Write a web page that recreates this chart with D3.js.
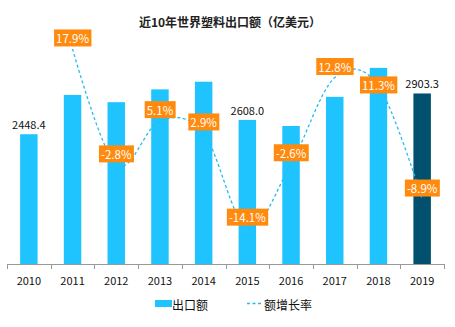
<!DOCTYPE html>
<html lang="zh">
<head>
<meta charset="UTF-8">
<title>近10年世界塑料出口额</title>
<script src="https://cdn.jsdelivr.net/npm/d3@7"></script>
<style>
  html, body { margin: 0; padding: 0; background: #fff; }
  svg { display: block; font-family: "Microsoft YaHei", "Noto Sans CJK SC", sans-serif; }
</style>
</head>
<body>
<div id="chart"></div>
<script>
// yearly export value (100M USD) and year-on-year growth (%)
const years = ['2010', '2011', '2012', '2013', '2014', '2015', '2016', '2017', '2018', '2019'];
const exportValue = [2448.4, 2886.7, 2805.9, 2949.0, 3034.5, 2608.0, 2540.2, 2865.3, 3189.1, 2903.3];
const growthRate = [null, 17.9, -2.8, 5.1, 2.9, -14.1, -2.6, 12.8, 11.3, -8.9];
// only some bars carry a value label
const valueLabelYears = ['2010', '2015', '2019'];
// the 2018 rate label is nudged down so it clears 2017's
const rateLabelShift = { '2018': 10 };

const width = 455, height = 327;
const margin = { left: 7, right: 11, top: 40, bottom: 63 };
const plotBottom = height - margin.bottom;

const svg = d3.select('#chart').append('svg')
    .attr('width', width)
    .attr('height', height);

const x = d3.scaleBand()
    .domain(years)
    .range([margin.left, width - margin.right])
    .paddingInner(0.6)
    .paddingOuter(0.3);

const y = d3.scaleLinear()
    .domain([1000, 3500])
    .range([plotBottom, margin.top]);

// secondary scale for the growth line
const y2 = d3.scaleLinear()
    .domain([-20.5, 19.5])
    .range([plotBottom, margin.top]);

svg.append('text')
    .attr('x', 230)
    .attr('y', 21)
    .attr('text-anchor', 'middle')
    .attr('dominant-baseline', 'central')
    .attr('font-size', 12)
    .attr('font-weight', 'bold')
    .attr('fill', '#222')
    .text('近10年世界塑料出口额（亿美元）');

// bars
svg.append('g').selectAll('rect')
    .data(years)
    .join('rect')
    .attr('x', d => x(d))
    .attr('width', x.bandwidth())
    .attr('y', (d, i) => y(exportValue[i]))
    .attr('height', (d, i) => plotBottom - y(exportValue[i]))
    .attr('fill', d => d === '2019' ? '#00506E' : '#1FC4FF');

// value labels above selected bars
svg.append('g').selectAll('text')
    .data(years.filter(d => valueLabelYears.includes(d)))
    .join('text')
    .attr('x', d => x(d) + x.bandwidth() / 2)
    .attr('y', d => y(exportValue[years.indexOf(d)]) - 10)
    .attr('text-anchor', 'middle')
    .attr('dominant-baseline', 'central')
    .attr('font-size', 11)
    .attr('fill', '#111')
    .text(d => exportValue[years.indexOf(d)].toFixed(1));

// x axis: ticks sit on the category boundaries
const step = (width - margin.right - margin.left) / years.length;
const axis = svg.append('g');
axis.append('line')
    .attr('x1', margin.left).attr('x2', width - margin.right)
    .attr('y1', plotBottom + 0.5).attr('y2', plotBottom + 0.5)
    .attr('stroke', '#999').attr('stroke-width', 1);
axis.selectAll('line.tick')
    .data(d3.range(years.length + 1))
    .join('line')
    .attr('class', 'tick')
    .attr('x1', i => Math.round(margin.left + i * step) + 0.5)
    .attr('x2', i => Math.round(margin.left + i * step) + 0.5)
    .attr('y1', plotBottom)
    .attr('y2', plotBottom + 5)
    .attr('stroke', '#999');
axis.selectAll('text')
    .data(years)
    .join('text')
    .attr('x', d => x(d) + x.bandwidth() / 2)
    .attr('y', plotBottom + 16)
    .attr('text-anchor', 'middle')
    .attr('dominant-baseline', 'central')
    .attr('font-size', 11)
    .attr('fill', '#111')
    .text(d => d);

// growth-rate line, smoothed and dashed
const ratePoints = years
    .map((d, i) => ({ year: d, v: growthRate[i] }))
    .filter(p => p.v !== null);

const line = d3.line()
    .x(p => x(p.year) + x.bandwidth() / 2)
    .y(p => y2(p.v))
    .curve(d3.curveCatmullRom.alpha(0));

svg.append('path')
    .datum(ratePoints)
    .attr('d', line)
    .attr('fill', 'none')
    .attr('stroke', '#22BCF2')
    .attr('stroke-width', 1.3)
    .attr('stroke-dasharray', '3,2.5');

// rate labels: orange boxes above each point
const rateLabels = svg.append('g').selectAll('g')
    .data(ratePoints)
    .join('g')
    .attr('transform', p => `translate(${x(p.year) + x.bandwidth() / 2},${y2(p.v) - 11 + (rateLabelShift[p.year] || 0)})`);

rateLabels.append('text')
    .attr('text-anchor', 'middle')
    .attr('dominant-baseline', 'central')
    .attr('font-size', 11.5)
    .attr('fill', '#fff')
    .text(p => p.v.toFixed(1) + '%');

rateLabels.each(function () {
    const g = d3.select(this);
    const bb = g.select('text').node().getBBox();
    g.insert('rect', 'text')
        .attr('x', bb.x - 2)
        .attr('y', -8.5)
        .attr('width', bb.width + 4)
        .attr('height', 17)
        .attr('fill', '#FF8A0D');
});

// legend
const legend = svg.append('g');
legend.append('rect')
    .attr('x', 155).attr('y', 300)
    .attr('width', 17).attr('height', 7)
    .attr('fill', '#1FC4FF');
legend.append('text')
    .attr('x', 172).attr('y', 304)
    .attr('dominant-baseline', 'central')
    .attr('font-size', 12).attr('fill', '#111')
    .text('出口额');
legend.append('line')
    .attr('x1', 247).attr('x2', 263)
    .attr('y1', 303.5).attr('y2', 303.5)
    .attr('stroke', '#22BCF2')
    .attr('stroke-width', 1.3)
    .attr('stroke-dasharray', '3,2.5');
legend.append('text')
    .attr('x', 264).attr('y', 304)
    .attr('dominant-baseline', 'central')
    .attr('font-size', 12).attr('fill', '#111')
    .text('额增长率');
</script>
</body>
</html>
